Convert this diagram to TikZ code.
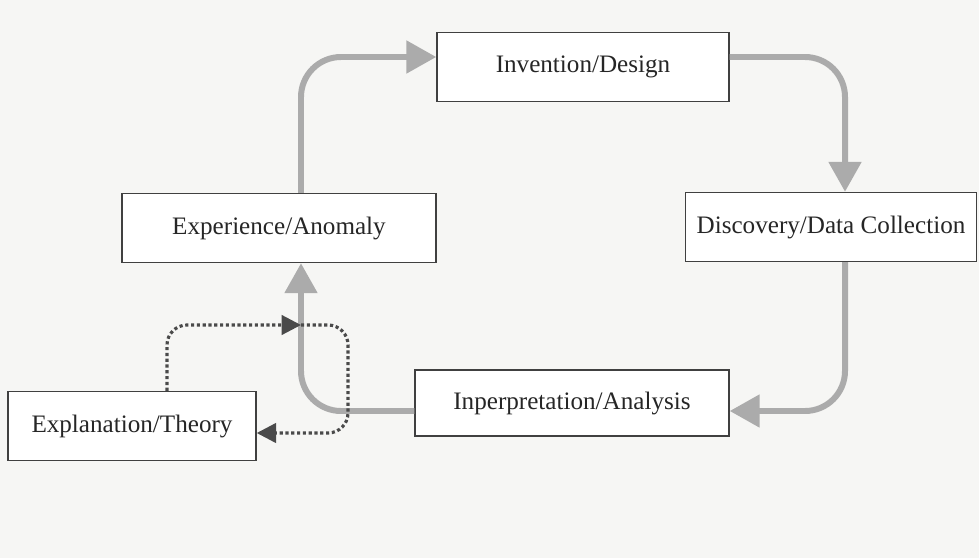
\documentclass[tikz,border=0pt]{standalone}
\usepackage{fontspec}
\setmainfont{Liberation Serif}
\usetikzlibrary{arrows.meta}

\definecolor{cyclegray}{HTML}{ABABAB}
\definecolor{dotgray}{HTML}{4A4A4A}
\definecolor{paper}{HTML}{F6F6F4}

\begin{document}
\begin{tikzpicture}[
    stage/.style={draw=black!75, line width=0.8pt, fill=white, text=black!85,
      minimum height=1.38cm, inner sep=2pt, font=\fontsize{14.3}{16}\selectfont},
    loop/.style={cyclegray, line width=3.4pt, rounded corners=0.8cm,
      -{Triangle[length=17pt, width=18pt]}},
    theory/.style={dotgray, line width=1.8pt, dash pattern=on 1.8pt off 1.5pt,
      rounded corners=0.4cm, -{Triangle[length=11pt, width=11pt]}}]

  \fill[paper] (0,0) rectangle (19.58,11.16);
  \useasboundingbox (0,0) rectangle (19.58,11.16);

  \node[stage, minimum width=5.84cm] (inv) at (11.66, 9.82) {Invention/Design};
  \node[stage, minimum width=6.28cm] (exp) at (5.58, 6.60)  {Experience/Anomaly};
  \node[stage, minimum width=5.82cm] (dis) at (16.62, 6.62) {Discovery/Data Collection};
  \node[stage, minimum width=6.28cm, minimum height=1.32cm] (int) at (11.44, 3.10) {Inperpretation/Analysis};
  \node[stage, minimum width=4.96cm] (the) at (2.64, 2.64)  {Explanation/Theory};

  \coordinate (meet) at (6.02, 4.66);
  \coordinate (turn) at (6.96, 4.66);

  % main cycle
  \draw[loop] ([xshift=0.44cm]exp.north) |- ([yshift=0.2cm]inv.west);
  \draw[loop] ([yshift=0.2cm]inv.east) -| ([xshift=0.28cm]dis.north);
  \draw[loop] ([xshift=0.28cm]dis.south) |- ([yshift=-0.16cm]int.east);
  \draw[loop] ([yshift=-0.16cm]int.west) -| ([xshift=0.44cm]exp.south);

  % theory feedback
  \draw[theory] ([xshift=0.7cm]the.north) |- (meet);
  \draw[theory] (meet) -- (turn) |- ([yshift=-0.14cm]the.east);
\end{tikzpicture}
\end{document}
